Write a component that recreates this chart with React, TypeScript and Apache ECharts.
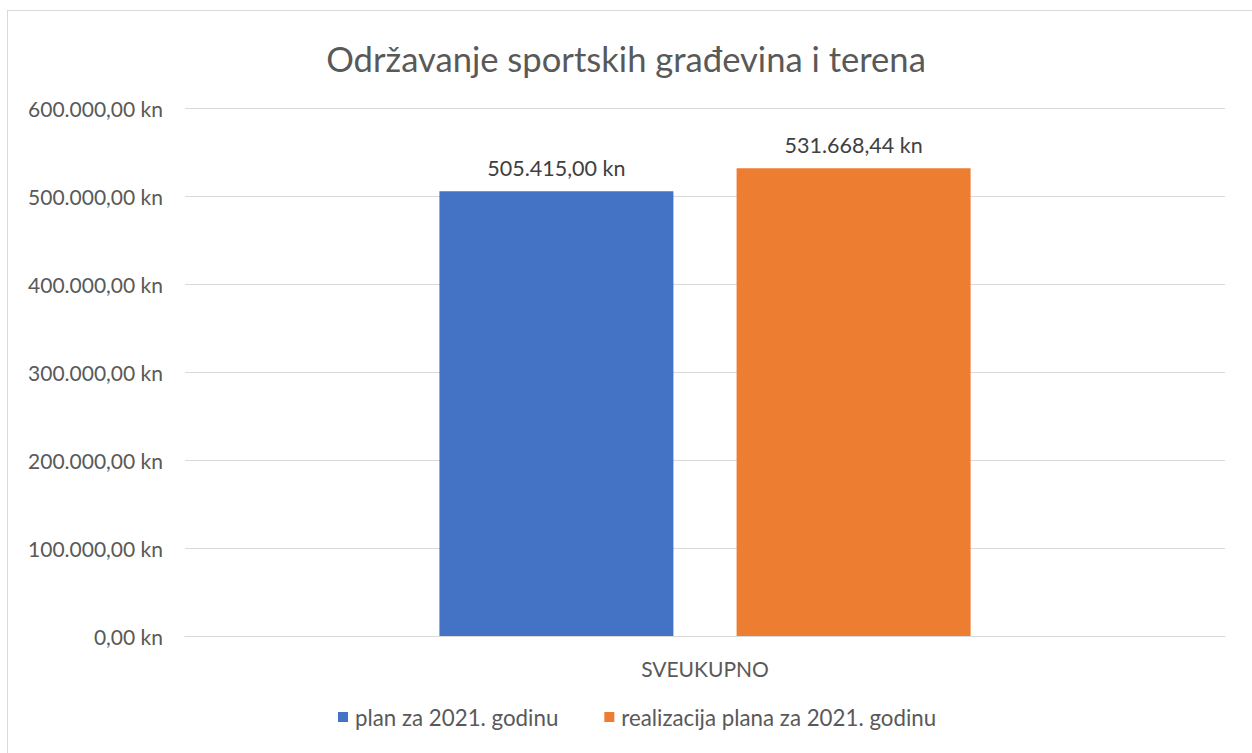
import React, { useEffect, useRef } from "react";
import * as echarts from "echarts";

const categories = ["SVEUKUPNO"];
const seriesNames = ["plan za 2021. godinu", "realizacija plana za 2021. godinu"];
const planValues = [505415.0];
const realValues = [531668.44];
const colors = ["#4472C4", "#ED7D31"];
const yTicks = [0, 100000, 200000, 300000, 400000, 500000, 600000];

function fmtKn(v: number): string {
  const fixed = Math.abs(v).toFixed(2);
  const [intPart, dec] = fixed.split(".");
  const withSep = intPart.replace(/\B(?=(\d{3})+(?!\d))/g, ".");
  return (v < 0 ? "-" : "") + withSep + "," + dec + " kn";
}

const FONT = "Lato, 'Open Sans', sans-serif";

export default function App() {
  const ref = useRef<HTMLDivElement>(null);
  useEffect(() => {
    if (!ref.current) return;
    const chart = echarts.init(ref.current, undefined, { renderer: "svg" });
    chart.setOption({
      animation: false,
      backgroundColor: "#ffffff",
      textStyle: { fontFamily: FONT },
      title: {
        text: "Održavanje sportskih građevina i terena",
        left: "center",
        top: 36,
        textStyle: { fontFamily: FONT, fontSize: 34.6, fontWeight: "normal", color: "#595959" },
      },
      graphic: [
        { type: "line", shape: { x1: 7.5, y1: 10, x2: 7.5, y2: 753 }, style: { stroke: "#d9d9d9", lineWidth: 1 } },
        { type: "line", shape: { x1: 7, y1: 10.5, x2: 1252, y2: 10.5 }, style: { stroke: "#d9d9d9", lineWidth: 1 } },
      ],
      legend: {
        data: seriesNames,
        bottom: 20,
        left: 333,
        padding: [5, 5, 5, 5],
        itemWidth: 10,
        itemHeight: 10,
        itemGap: 46,
        icon: "rect",
        textStyle: { fontFamily: FONT, fontSize: 22.3, color: "#595959", padding: [0, 0, 0, 2] },
      },
      grid: { left: 185, right: 27, top: 108, bottom: 117, containLabel: false },
      xAxis: {
        type: "category",
        data: categories,
        axisLine: { lineStyle: { color: "#d9d9d9", width: 1 } },
        axisTick: { show: false },
        axisLabel: { fontFamily: FONT, fontSize: 21, color: "#595959", margin: 22 },
      },
      yAxis: {
        type: "value",
        min: yTicks[0],
        max: yTicks[yTicks.length - 1],
        interval: 100000,
        axisLine: { show: false },
        axisTick: { show: false },
        splitLine: { lineStyle: { color: "#d9d9d9", width: 1 } },
        axisLabel: { fontFamily: FONT, fontSize: 21, color: "#595959", margin: 22, formatter: (v: number) => fmtKn(v) },
      },
      series: [
        {
          name: seriesNames[0],
          type: "bar",
          data: planValues,
          barWidth: 234,
          barGap: "27%",
          itemStyle: { color: colors[0] },
          label: { show: true, position: "top", distance: 12, fontFamily: FONT, fontSize: 21.5, color: "#404040", formatter: (p: any) => fmtKn(p.value) },
        },
        {
          name: seriesNames[1],
          type: "bar",
          data: realValues,
          barWidth: 234,
          itemStyle: { color: colors[1] },
          label: { show: true, position: "top", distance: 12, fontFamily: FONT, fontSize: 21.5, color: "#404040", formatter: (p: any) => fmtKn(p.value) },
        },
      ],
    });
    return () => chart.dispose();
  }, []);
  return <div ref={ref} style={{ position: "fixed", left: 0, top: 0, width: 1252, height: 753 }} />;
}
